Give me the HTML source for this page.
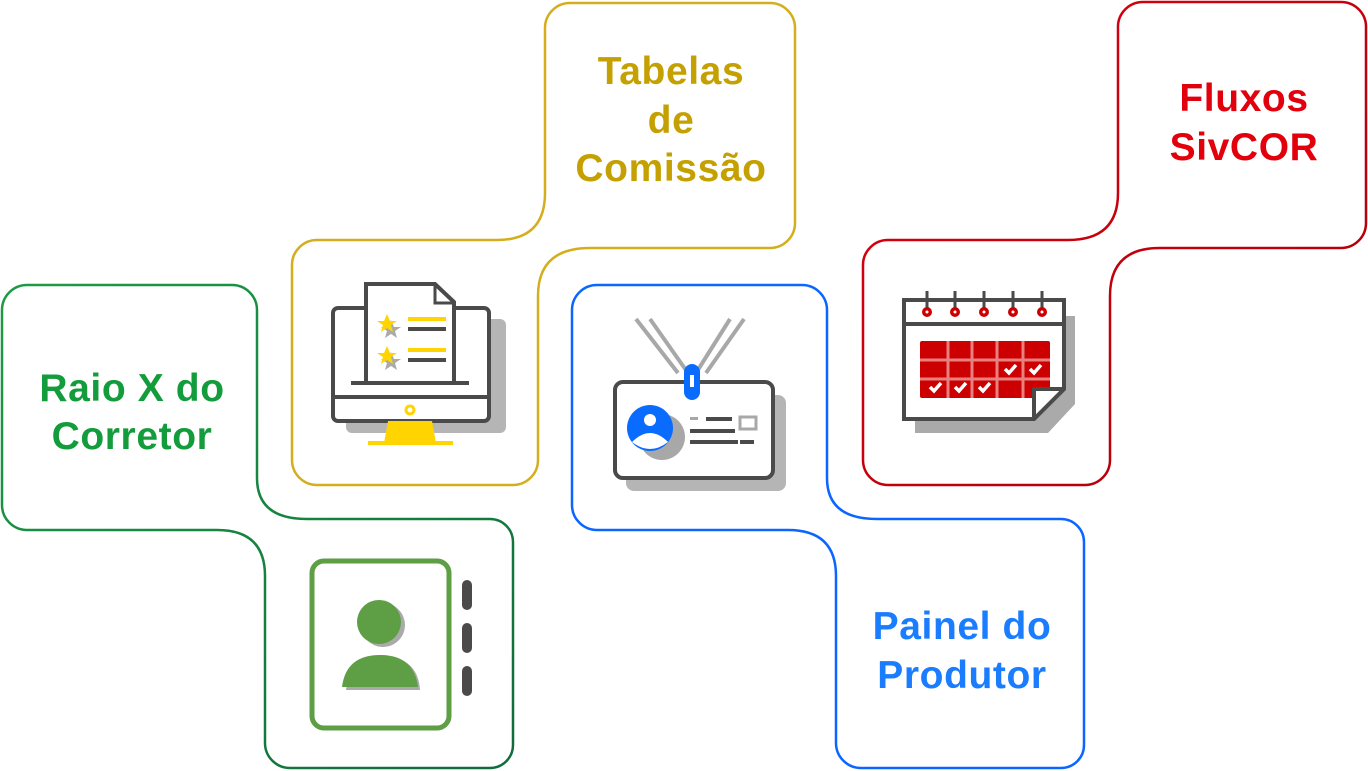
<!DOCTYPE html>
<html><head><meta charset="utf-8"><style>
html,body{margin:0;padding:0;background:#fff;}
svg{display:block}
text{font-family:"Liberation Sans",sans-serif;font-size:39px;font-weight:bold;text-anchor:middle;letter-spacing:0.6px}
</style></head><body>
<svg width="1368" height="771" viewBox="0 0 1368 771" xmlns="http://www.w3.org/2000/svg">
<defs>
<linearGradient id="gg" x1="0" y1="0" x2="1" y2="1"><stop offset="0" stop-color="#1c9c44"/><stop offset="1" stop-color="#0f6b3c"/></linearGradient>
<linearGradient id="rg" x1="0" y1="0" x2="1" y2="1"><stop offset="0" stop-color="#e00010"/><stop offset="1" stop-color="#a80008"/></linearGradient>
</defs>
<g fill="none" stroke-width="2.5">
<path stroke="url(#gg)" d="M2,310 A25,25 0 0 1 27,285 H232 A25,25 0 0 1 257,310 V478 Q257,519 307,519 H490 A23,23 0 0 1 513,542 V745 A23,23 0 0 1 490,768 H290 A25,25 0 0 1 265,743 V576 Q265,530 217,530 H27 A25,25 0 0 1 2,505 Z"/>
<path stroke="#d4ae1c" d="M292,265 A25,25 0 0 1 317,240 H497 Q545,240 545,193 V28 A25,25 0 0 1 570,3 H770 A25,25 0 0 1 795,28 V223 A25,25 0 0 1 770,248 H590 Q538,248 538,296 V460 A25,25 0 0 1 513,485 H317 A25,25 0 0 1 292,460 Z"/>
<path stroke="#0a66ff" d="M572,310 A25,25 0 0 1 597,285 H802 A25,25 0 0 1 827,310 V478 Q827,519 877,519 H1061 A23,23 0 0 1 1084,542 V745 A23,23 0 0 1 1061,768 H861 A25,25 0 0 1 836,743 V576 Q836,530 788,530 H597 A25,25 0 0 1 572,505 Z"/>
<path stroke="url(#rg)" d="M863,265 A25,25 0 0 1 888,240 H1068 Q1118,240 1118,193 V28 A25,25 0 0 1 1143,2 H1341 A25,25 0 0 1 1366,28 V223 A25,25 0 0 1 1341,248 H1160 Q1110,248 1110,296 V460 A25,25 0 0 1 1085,485 H888 A25,25 0 0 1 863,460 Z"/>
</g>
<text x="132" y="401" fill="#139c3b">Raio X do</text>
<text x="132" y="449" fill="#139c3b">Corretor</text>
<text x="671" y="84" fill="#c4a000">Tabelas</text>
<text x="671" y="133" fill="#c4a000">de</text>
<text x="671" y="181" fill="#c4a000">Comissão</text>
<text x="1244" y="111" fill="#e2000c">Fluxos</text>
<text x="1244" y="160" fill="#e2000c">SivCOR</text>
<text x="962" y="639" fill="#1a7cff">Painel do</text>
<text x="962" y="688" fill="#1a7cff">Produtor</text>

<rect x="346" y="319" width="160" height="114" rx="6" fill="#b5b5b5"/>
<rect x="333" y="308" width="156" height="113" rx="5" fill="#fff" stroke="#4a4a4a" stroke-width="4"/>
<line x1="333" y1="397" x2="489" y2="397" stroke="#4a4a4a" stroke-width="4"/>
<circle cx="410" cy="410" r="4" fill="none" stroke="#ffd400" stroke-width="3"/>
<polygon points="388,421 432,421 436,443 384,443" fill="#ffd400"/>
<rect x="368" y="441" width="85" height="4" fill="#ffd400"/>
<path d="M366,383 V284 H435 L454,302 V383 Z" fill="#fff" stroke="#4a4a4a" stroke-width="4"/>
<path d="M435,284 V303 H454" fill="none" stroke="#4a4a4a" stroke-width="3"/>
<line x1="351" y1="383" x2="469" y2="383" stroke="#4a4a4a" stroke-width="4"/>
<rect x="408" y="317" width="38" height="4" fill="#ffd400"/><rect x="408" y="327" width="38" height="4" fill="#4a4a4a"/>
<rect x="408" y="348" width="38" height="4" fill="#ffd400"/><rect x="408" y="358" width="38" height="4" fill="#4a4a4a"/>
<polygon points="391,320 394,327 401,327 395,331 397,338 391,334 385,338 387,331 381,327 388,327" fill="#aaa"/>
<polygon points="387,314 390,321 397,321 391,325 393,332 387,328 381,332 383,325 377,321 384,321" fill="#ffd400"/>
<polygon points="391,352 394,359 401,359 395,363 397,370 391,366 385,370 387,363 381,359 388,359" fill="#aaa"/>
<polygon points="387,346 390,353 397,353 391,357 393,364 387,360 381,364 383,357 377,353 384,353" fill="#ffd400"/>

<g stroke="#a8a8a8" stroke-width="4"><line x1="636" y1="319" x2="678" y2="373"/><line x1="650" y1="319" x2="688" y2="373"/><line x1="730" y1="319" x2="696" y2="373"/><line x1="744" y1="319" x2="706" y2="373"/></g>
<rect x="626" y="395" width="160" height="96" rx="8" fill="#b5b5b5"/>
<rect x="615" y="382" width="158" height="96" rx="8" fill="#fff" stroke="#4a4a4a" stroke-width="4"/>
<rect x="684" y="364" width="16" height="36" rx="8" fill="#0a6cff"/><rect x="690" y="375" width="4" height="12" fill="#fff"/>
<circle cx="662" cy="437" r="23" fill="#a8a8a8"/>
<circle cx="650" cy="428" r="23" fill="#0a6cff"/>
<circle cx="650" cy="420" r="6" fill="#fff"/>
<path d="M632,442 Q650,424 668,442 Q650,456 632,442Z" fill="#fff"/>
<rect x="690" y="417" width="8" height="3" fill="#a8a8a8"/><rect x="706" y="417" width="26" height="4" fill="#4a4a4a"/>
<rect x="740" y="417" width="16" height="12" fill="none" stroke="#a8a8a8" stroke-width="3"/>
<rect x="690" y="429" width="45" height="4" fill="#4a4a4a"/>
<rect x="690" y="440" width="48" height="4" fill="#4a4a4a"/><rect x="740" y="440" width="14" height="4" fill="#4a4a4a"/>

<polygon points="915,316 1075,316 1075,404 1048,433 915,433" fill="#aaa"/>
<path d="M904,300 H1064 V389 L1034,419 H904 Z" fill="#fff" stroke="#4a4a4a" stroke-width="4"/>
<line x1="904" y1="324" x2="1064" y2="324" stroke="#4a4a4a" stroke-width="4"/>
<g stroke="#4a4a4a" stroke-width="3"><line x1="927" y1="291" x2="927" y2="310"/><line x1="955" y1="291" x2="955" y2="310"/><line x1="984" y1="291" x2="984" y2="310"/><line x1="1013" y1="291" x2="1013" y2="310"/><line x1="1042" y1="291" x2="1042" y2="310"/></g>
<g fill="#cc0000"><circle cx="927" cy="312" r="5"/><circle cx="955" cy="312" r="5"/><circle cx="984" cy="312" r="5"/><circle cx="1013" cy="312" r="5"/><circle cx="1042" cy="312" r="5"/></g>
<g fill="#fff"><circle cx="927" cy="312" r="1.5"/><circle cx="955" cy="312" r="1.5"/><circle cx="984" cy="312" r="1.5"/><circle cx="1013" cy="312" r="1.5"/><circle cx="1042" cy="312" r="1.5"/></g>
<rect x="920" y="341" width="130" height="57" rx="2" fill="#cc0000"/>
<g stroke="#e88080" stroke-width="3"><line x1="948" y1="341" x2="948" y2="398"/><line x1="972" y1="341" x2="972" y2="398"/><line x1="997" y1="341" x2="997" y2="398"/><line x1="1023" y1="341" x2="1023" y2="398"/><line x1="920" y1="360" x2="1050" y2="360"/><line x1="920" y1="379" x2="1050" y2="379"/></g>
<g stroke="#fff" stroke-width="3.5" fill="none"><path d="M930,387 l4,4 l7,-8"/><path d="M955,387 l4,4 l7,-8"/><path d="M979,387 l4,4 l7,-8"/><path d="M1005,369 l4,4 l7,-8"/><path d="M1030,369 l4,4 l7,-8"/></g>
<path d="M1034,389 H1064 L1034,419 Z" fill="#fff" stroke="#4a4a4a" stroke-width="4" stroke-linejoin="round"/>

<rect x="312" y="561" width="137" height="167" rx="12" fill="#fff" stroke="#5e9e45" stroke-width="5"/>
<circle cx="383" cy="625" r="22" fill="#aaa"/>
<circle cx="379" cy="622" r="22" fill="#5e9e45"/>
<path d="M346,690 Q350,658 384,656 Q418,658 420,690 Z" fill="#aaa"/>
<path d="M342,687 Q346,655 380,655 Q414,655 418,687 Z" fill="#5e9e45"/>
<g stroke="#4a4a4a" stroke-width="10" stroke-linecap="round"><line x1="467" y1="585" x2="467" y2="605"/><line x1="467" y1="628" x2="467" y2="648"/><line x1="467" y1="671" x2="467" y2="691"/></g>
</svg>
</body></html>
